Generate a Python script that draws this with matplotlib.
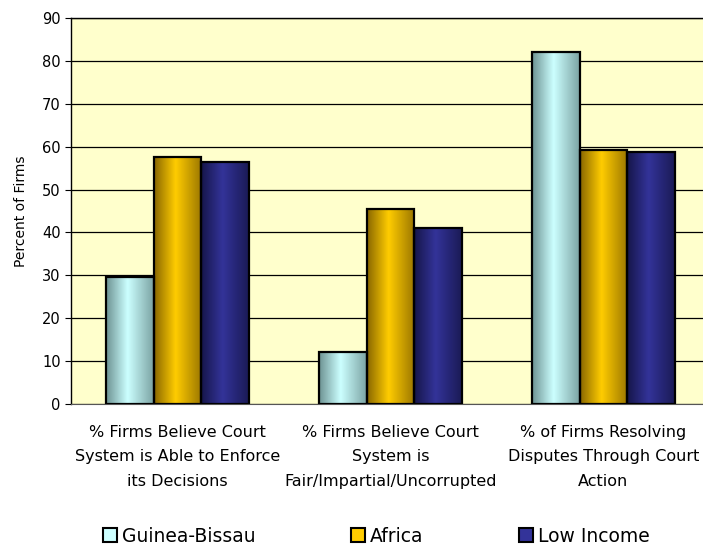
import numpy as np
import matplotlib
matplotlib.use('Agg')
import matplotlib.pyplot as plt
from matplotlib.colors import LinearSegmentedColormap
from matplotlib.patches import Patch

# data
categories = ['% Firms Believe Court\nSystem is Able to Enforce\nits Decisions',
              '% Firms Believe Court\nSystem is\nFair/Impartial/Uncorrupted',
              '% of Firms Resolving\nDisputes Through Court\nAction']
series_names = ['Guinea-Bissau', 'Africa', 'Low Income']
guinea_bissau = [29.7, 12.1, 82.0]
africa = [57.7, 45.4, 59.2]
low_income = [56.4, 41.0, 58.7]

# (edge colour, centre colour) per series
shades = [('#6e9494', '#ccffff'), ('#8a6800', '#ffcc00'), ('#16164a', '#333399')]
flat = ['#ccffff', '#ffcc00', '#333399']

fig = plt.figure(figsize=(7.03, 5.46), dpi=100)
ax = fig.add_axes([71/703, 1 - 404/546, 1 - 71/703, (404 - 18)/546])
ax.set_facecolor('#ffffcc')

w = 0.223
x = np.arange(len(categories))
grad = np.linspace(0, 1, 64)
profile = np.interp(grad, [0, 0.45, 1], [0, 1, 0.15]).reshape(1, -1)

for k, vals in enumerate([guinea_bissau, africa, low_income]):
    cmap = LinearSegmentedColormap.from_list('s%d' % k, [shades[k][0], shades[k][1]])
    pos = x + (k - 1) * w
    for p, v in zip(pos, vals):
        ax.imshow(profile, cmap=cmap, vmin=0, vmax=1, aspect='auto',
                  extent=[p - w/2, p + w/2, 0, v], zorder=2, interpolation='bilinear')
    ax.bar(pos, vals, width=w, facecolor='none', edgecolor='black', linewidth=1.6, zorder=3)

ax.set_xlim(-0.5, -0.5 + (703 - 71) / 213)
ax.set_ylim(0, 90)
ax.set_yticks(range(0, 91, 10))
ax.yaxis.grid(True, color='black', linewidth=0.9)
ax.set_axisbelow(True)
ax.set_xticks(x)
ax.set_xticklabels(categories, fontsize=11.5, linespacing=1.78)
ax.tick_params(axis='x', length=0, pad=15)
ax.tick_params(axis='y', labelsize=10.5, length=4, direction='out')
ax.spines['right'].set_visible(False)
ax.spines['left'].set_linewidth(1.0)
ax.spines['top'].set_linewidth(1.0)
ax.spines['bottom'].set_color('#555555')
ax.set_ylabel('Percent of Firms', fontsize=10, labelpad=10)

handles = [Patch(facecolor=flat[i], edgecolor='black', linewidth=1.5) for i in range(3)]
fig.legend(handles, series_names, loc='lower left', bbox_to_anchor=(0.123, -0.03),
           ncol=3, frameon=False, fontsize=13.5, handlelength=0.75, handleheight=0.75,
           handletextpad=0.25, columnspacing=5.1)

fig.savefig('out.png', dpi=100)
